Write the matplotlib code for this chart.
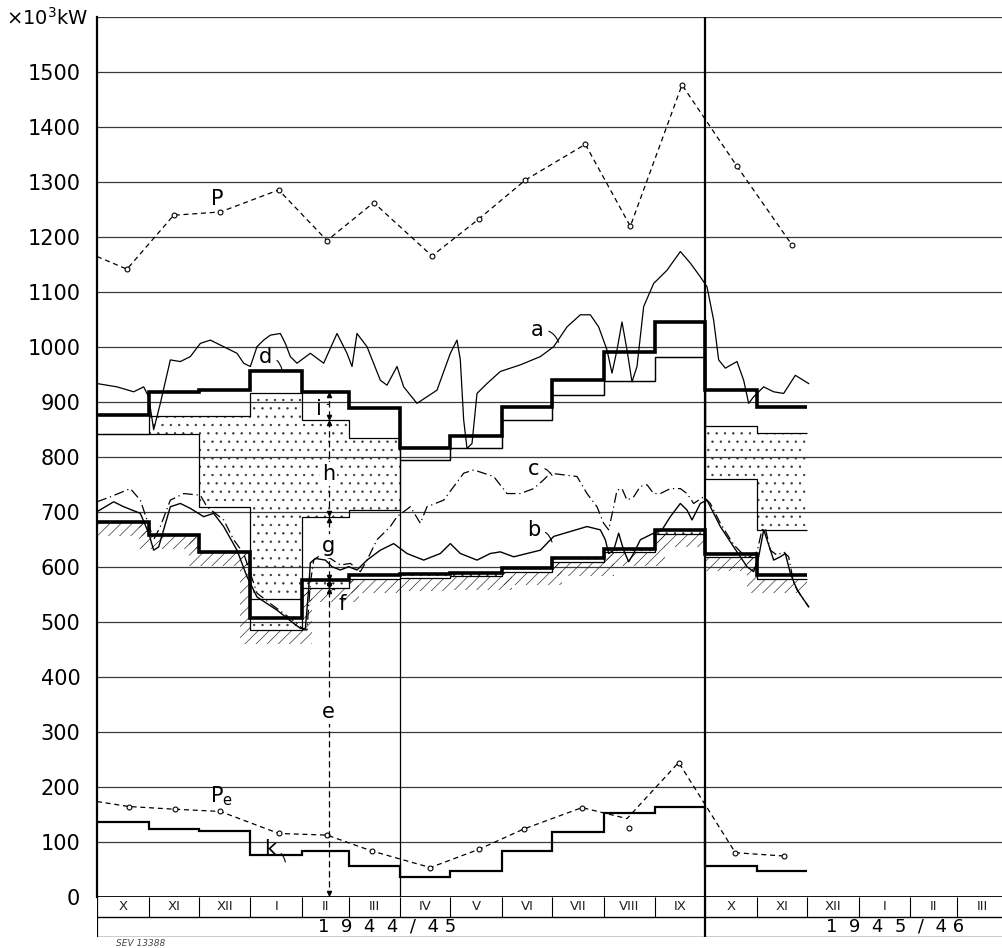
import numpy as np
import matplotlib.pyplot as plt

plt.rcParams['hatch.linewidth'] = 0.45

# month edges in days from 1 Oct 1944 (widths follow the number of days)
month_edges = [0, 31, 61, 92, 123, 151, 182, 212, 243, 273, 304, 335, 365,
               396, 426, 457, 488, 516, 547]
month_names = ['X', 'XI', 'XII', 'I', 'II', 'III', 'IV', 'V', 'VI', 'VII',
               'VIII', 'IX', 'X', 'XI', 'XII', 'I', 'II', 'III']
year_labels = ['1  9  4  4  /  4 5', '1  9  4  5  /  4 6']

# monthly step values, Oct 1944 .. Nov 1945 (x10^3 kW)
d_step = [875, 918, 922, 956, 918, 888, 816, 837, 891, 939, 991, 1045, 921, 890]
h_top = [842, 874, 874, 915, 867, 834, 794, 815, 867, 912, 938, 981, 855, 843]
h_bot = [842, 841, 709, 541, 691, 704, 794, 815, 867, 912, 938, 981, 759, 667]
low_thick = [681, 657, 627, 506, 576, 585, 586, 589, 597, 615, 633, 666, 623, 585]
low_thin = [681, 657, 627, 485, 561, 578, 580, 583, 591, 608, 627, 660, 618, 578]
k_step = [136, 124, 120, 76, 84, 56, 35, 47, 83, 118, 152, 164, 56, 47]

# curve a
a_days = [0, 12, 22, 28, 31, 34, 38, 44, 50, 56, 62, 68, 76, 84, 88, 92, 96, 100,
          104, 110, 113, 116, 120, 128, 136, 144, 150, 153, 156, 162, 170, 174,
          180, 184, 192, 204, 212, 216, 218, 220, 222, 225, 228, 234, 242, 254,
          266, 274, 282, 290, 296, 301, 306, 309, 312, 315, 318, 321, 324, 328,
          334, 342, 350, 356, 362, 366, 370, 373, 377, 384, 388, 391, 394, 400,
          406, 412, 419, 427]
a_vals = [933, 927, 918, 927, 909, 849, 897, 976, 973, 982, 1006, 1012, 1000, 988,
          970, 964, 1000, 1012, 1021, 1024, 1006, 982, 970, 988, 970, 1024, 988,
          964, 1024, 1000, 939, 930, 964, 927, 897, 921, 988, 1012, 976, 867, 815,
          824, 915, 933, 955, 967, 982, 1000, 1036, 1058, 1058, 1036, 994, 952,
          994, 1045, 994, 936, 964, 1073, 1115, 1139, 1173, 1152, 1127, 1109,
          1048, 976, 961, 973, 939, 897, 909, 927, 918, 915, 948, 933]

# curve b
b_days = [0, 10, 16, 26, 31, 34, 37, 44, 50, 56, 64, 70, 76, 84, 90, 96, 108, 118,
          122, 125, 127, 128, 131, 137, 141, 146, 151, 156, 162, 170, 178, 186,
          196, 206, 212, 218, 228, 236, 242, 250, 258, 266, 274, 284, 294, 302,
          305, 307, 310, 313, 316, 319, 322, 326, 334, 339, 344, 350, 354, 357,
          362, 366, 368, 374, 382, 390, 394, 397, 400, 402, 406, 410, 413, 416,
          420, 427]
b_vals = [700, 718, 709, 697, 661, 630, 636, 709, 715, 706, 691, 697, 673, 630,
          582, 545, 521, 497, 488, 487, 560, 607, 615, 612, 600, 594, 600, 594,
          612, 630, 642, 624, 612, 624, 642, 624, 612, 624, 627, 618, 624, 630,
          655, 664, 673, 667, 649, 624, 630, 661, 630, 609, 624, 649, 661, 667,
          691, 715, 703, 685, 715, 721, 709, 673, 636, 600, 591, 618, 667, 649,
          612, 618, 624, 588, 558, 527]

# curve c
c_days = [0, 8, 20, 26, 30, 34, 38, 44, 52, 62, 66, 76, 82, 88, 92, 96, 104, 112,
          120, 124, 126, 128, 130, 134, 140, 146, 152, 158, 162, 168, 176, 180,
          188, 194, 198, 208, 220, 226, 232, 238, 246, 254, 262, 268, 272, 280,
          288, 294, 300, 304, 307, 310, 312, 315, 318, 322, 326, 330, 334, 338,
          344, 350, 354, 358, 364, 368, 374, 382, 390, 396, 399, 401, 404, 408,
          412, 415, 418, 422, 427]
c_vals = [718, 727, 742, 721, 685, 649, 673, 721, 733, 730, 709, 685, 649, 624,
          588, 552, 533, 515, 497, 485, 485, 570, 612, 621, 615, 603, 606, 591,
          612, 649, 673, 691, 709, 679, 709, 721, 770, 776, 770, 764, 733, 733,
          742, 758, 770, 767, 764, 733, 709, 679, 667, 709, 739, 742, 721, 727,
          746, 749, 733, 733, 742, 742, 733, 715, 727, 715, 679, 640, 615, 627,
          667, 670, 630, 621, 627, 618, 570, 549, 527]

# P and Pe (monthly points, first value is the carry-over at the left edge)
p_days = [0, 18, 46, 74, 109, 138, 166, 201, 229, 257, 293, 320, 351, 384, 417]
p_vals = [1164, 1141, 1239, 1245, 1285, 1193, 1262, 1165, 1232, 1303, 1368,
          1219, 1476, 1328, 1185]
pe_days = [0, 19, 47, 74, 109, 138, 165, 200, 229, 256, 291, 318, 349, 383, 412]
pe_vals = [173, 164, 159, 155, 115, 112, 83, 53, 86, 123, 162, 142, 244, 80, 74]
pe_aug = (319, 125)

edges = np.array(month_edges[:len(d_step) + 1])

fig = plt.figure(figsize=(10.02, 9.48), dpi=100)
ax = fig.add_axes([97 / 1002, 51.3 / 948, 905 / 1002, 880 / 948])
ax.set_xlim(0, 543)
ax.set_ylim(0, 1600)

# horizontal grid
for v in range(100, 1700, 100):
    ax.axhline(v, color='#3a3a3a', lw=0.9, zorder=0)
ax.axhline(0, color='black', lw=1.3, zorder=0)

# stippled bands
ax.stairs(h_top, edges, baseline=h_bot, fill=True, facecolor='none',
          edgecolor='#333333', hatch='..', lw=0, zorder=1)
ax.stairs(low_thick, edges, baseline=low_thin, fill=True, facecolor='none',
          edgecolor='#333333', hatch='..', lw=0, zorder=1)

# hatched ground under the lower step line
band = 25
ax.stairs(np.array(low_thin), edges, baseline=np.array(low_thin) - band,
          fill=True, facecolor='none', edgecolor='#222222', hatch='///',
          lw=0, zorder=1)
w = 6
for i in range(len(low_thin) - 1):
    x0 = edges[i + 1]
    old, new = low_thin[i], low_thin[i + 1]
    if i + 1 == 12:
        continue
    if new < old - 5:
        ax.fill_between([x0 - w, x0], new - band, old, facecolor='none',
                        edgecolor='#222222', hatch='///', lw=0, zorder=1)
    elif new > old + 5:
        ax.fill_between([x0, x0 + w], old - band, new, facecolor='none',
                        edgecolor='#222222', hatch='///', lw=0, zorder=1)

# step lines
ax.stairs(h_top, edges, baseline=None, color='black', lw=0.9, zorder=3)
ax.stairs(h_bot, edges, baseline=None, color='black', lw=0.9, zorder=3)
ax.stairs(low_thin, edges, baseline=None, color='black', lw=0.9, zorder=3)
ax.stairs(d_step, edges, baseline=None, color='black', lw=2.6, zorder=4)
ax.stairs(low_thick, edges, baseline=None, color='black', lw=2.6, zorder=4)
ax.stairs(k_step, edges, baseline=None, color='black', lw=1.6, zorder=4)

# continuous curves
ax.plot(a_days, a_vals, color='black', lw=0.9, zorder=5)
ax.plot(b_days, b_vals, color='black', lw=1.0, zorder=5)
ax.plot(c_days, c_vals, color='black', lw=0.9, ls=(0, (8, 3, 1, 3)), zorder=5)

# P and Pe
ax.plot(p_days, p_vals, color='black', lw=0.9, ls=(0, (4, 3)), zorder=5)
ax.plot(p_days[1:], p_vals[1:], 'o', ms=3.5, mfc='white', mec='black',
        mew=0.8, zorder=6)
ax.plot(pe_days, pe_vals, color='black', lw=0.9, ls=(0, (4, 3)), zorder=5)
pe_mark = [i for i in range(1, len(pe_days)) if i != 11]
ax.plot([pe_days[i] for i in pe_mark], [pe_vals[i] for i in pe_mark], 'o',
        ms=3.5, mfc='white', mec='black', mew=0.8, zorder=6)
ax.plot(*pe_aug, 'o', ms=3.5, mfc='white', mec='black', mew=0.8, zorder=6)

# vertical separators
ax.vlines(month_edges[6], 0, d_step[6], color='black', lw=0.9, zorder=3)
ax.vlines(month_edges[12], 0, 1600, color='black', lw=1.6, zorder=6)

# dimension line in February
xm = 139
marks = [d_step[4], h_top[4], h_bot[4], low_thick[4], low_thin[4], 0]
ax.vlines(xm, 0, marks[0], color='black', lw=0.9, ls=(0, (5, 3)), zorder=6)
for j, m in enumerate(marks):
    if j > 0:
        ax.plot(xm, m + 6, 'v', ms=3, color='black', zorder=7)
    if j < len(marks) - 1:
        ax.plot(xm, m - 6, '^', ms=3, color='black', zorder=7)

lab = dict(fontsize=15, color='black', ha='center', va='center', zorder=8)
box = dict(boxstyle='square,pad=0.1', fc='white', ec='none')
hook = dict(arrowstyle='-', color='black', lw=0.8,
            connectionstyle='arc3,rad=-0.4', shrinkA=2, shrinkB=0)
ax.annotate('a', xy=(277, 1008), xytext=(264, 1030), arrowprops=hook, **lab)
ax.annotate('b', xy=(273, 645), xytext=(262, 667), arrowprops=hook, **lab)
ax.annotate('c', xy=(273, 766), xytext=(262, 778), arrowprops=hook, **lab)
ax.annotate('d', xy=(111, 958), xytext=(101, 982), arrowprops=hook, **lab)
ax.annotate('k', xy=(113, 63), xytext=(104, 86), arrowprops=hook, **lab)
ax.annotate('f', xy=(141, 560), xytext=(147, 532),
            arrowprops=dict(hook, connectionstyle='arc3,rad=0.4'), **lab)
ax.annotate('i', xy=(139, 895), xytext=(133, 887),
            arrowprops=dict(hook, connectionstyle='arc3,rad=-0.3'), **lab)
ax.text(xm, 768, 'h', bbox=box, **lab)
ax.text(xm, 638, 'g', bbox=box, **lab)
ax.text(xm, 336, 'e', bbox=box, **lab)
ax.text(72, 1268, 'P', **lab)
ax.text(75, 182, 'P$_\\mathregular{e}$', **lab)

# axes styling
ax.set_yticks(range(0, 1600, 100))
ax.set_yticklabels([str(v) for v in range(0, 1600, 100)], fontsize=15)
ax.tick_params(axis='y', length=0, pad=12)
ax.set_xticks([])
for s in ['top', 'right', 'bottom']:
    ax.spines[s].set_visible(False)
ax.spines['left'].set_linewidth(1.6)
fig.text(47 / 1002, 1 - 18 / 948, '×10$^\\mathregular{3}$kW', fontsize=14,
         ha='center', va='center')

# month / year table below the axis
tab = fig.add_axes([97 / 1002, 11 / 948, 905 / 1002, 40.3 / 948])
tab.set_xlim(0, 543)
tab.set_ylim(0, 2)
tab.axis('off')
tab.hlines([0, 1], 0, 543, color='black', lw=1.0)
tab.vlines(month_edges[1:-1], 1, 2, color='black', lw=0.8)
tab.vlines(0, 0, 2, color='black', lw=1.6)
tab.vlines(month_edges[12], 0, 2, color='black', lw=1.6)
for i, name in enumerate(month_names):
    xc = (month_edges[i] + month_edges[i + 1]) / 2
    if xc < 543:
        tab.text(xc, 1.5, name, fontsize=9.5, ha='center', va='center',
                 color='#222222')
tab.text(174, 0.5, year_labels[0], fontsize=13, ha='center', va='center')
tab.text(479, 0.5, year_labels[1], fontsize=13, ha='center', va='center')
fig.text(116 / 1002, 1 - 943 / 948, 'SEV 13388', fontsize=6.5,
         style='italic', ha='left', va='center', color='#444444')

fig.savefig('out.png', dpi=100)
